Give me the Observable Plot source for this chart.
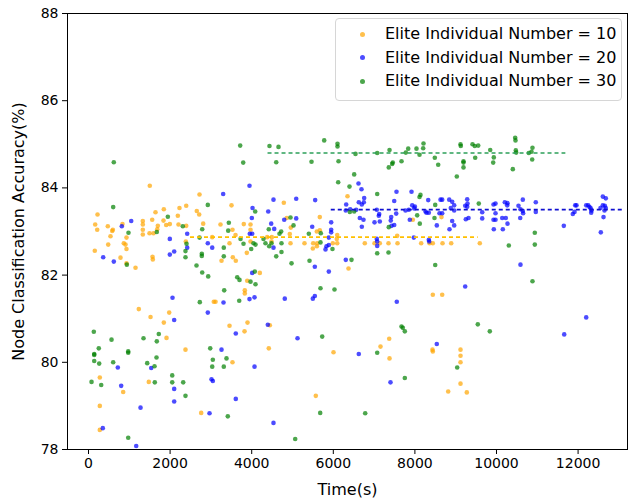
<!DOCTYPE html>
<html><head><meta charset="utf-8">
<script src="https://cdn.jsdelivr.net/npm/d3@7"></script>
<script src="https://cdn.jsdelivr.net/npm/@observablehq/plot@0.6"></script>
<style>
body{margin:0;background:#fff;}
#wrap{position:relative;width:628px;height:502px;font-family:"DejaVu Sans",sans-serif;}
.legend{position:absolute;left:335px;top:18px;width:287px;height:83px;border:1px solid #d6d6d6;border-radius:4px;background:rgba(255,255,255,0.8);box-sizing:border-box;}
.item{position:absolute;left:0;height:20px;font-size:16px;line-height:20px;color:#000;}
.dot{position:absolute;left:24px;top:7.5px;width:5px;height:5px;border-radius:50%;}
.lab{position:absolute;left:49px;white-space:nowrap;}
[aria-label="x-axis label"] text,[aria-label="y-axis label"] text{font-size:16px;}
</style>
</head><body><div id="wrap"></div>
<script>
const seriesNames = ["Elite Individual Number = 10","Elite Individual Number = 20","Elite Individual Number = 30"];
const dotColors = ["orange","blue","green"];
const lineColors = ["#FFC000","#1010D0","#2CA05A"];
const meanAcc = [82.87, 83.5, 84.8];
const meanStart = [2500, 5950, 4400];
const meanEnd = [9550, 13100, 11700];
const xTicks = [0,2000,4000,6000,8000,10000,12000];
const yTicks = [78,80,82,84,86,88];

const elite10 = [[1502,84.05],[2721,83.85],[221,83.39],[1642,83.44],[1846,83.51],[2230,83.54],[2395,83.59],[2654,83.47],[2713,83.39],[1561,83.27],[1838,83.25],[1331,83.24],[2189,83.36],[164,83.16],[473,83.12],[596,83.04],[581,83.01],[833,83.17],[1331,83.16],[1699,83.13],[1904,83.15],[1993,83.17],[2206,83.16],[2395,83.13],[2811,83.18],[213,83.04],[1331,83.04],[1684,83.05],[1495,82.96],[1593,82.96],[539,82.89],[931,82.86],[1331,82.93],[3032,82.87],
[3505,83.60],[4787,83.66],[6348,83.81],[4860,83.31],[5669,83.33],[3235,83.16],[3806,83.17],[3971,83.16],[4958,83.09],[3971,83.04],[5596,83.00],[5669,83.03],[3529,83.04],[4934,82.94],[6096,82.92],[3603,82.92],[6086,82.83],[4380,82.87],[4493,82.87],
[7949,83.27],[8652,83.33],[7566,82.90],
[483,82.70],[865,82.73],[907,82.70],[931,82.60],[154,82.56],[784,82.40],[1569,82.42],[1576,82.36],[931,82.27],[1152,82.17],[2385,82.77],[3071,81.39],[1233,81.22],[1978,81.14],[1520,81.04],[1846,80.91],[1912,80.56],
[3456,82.73],[3971,82.77],[4951,82.73],[5294,82.73],[5507,82.73],[5605,82.73],[5597,82.66],[5498,82.61],[5988,82.73],[6096,82.73],[4485,82.77],[3537,82.41],[3260,82.33],[3610,82.33],[3880,82.51],[6373,82.15],[4199,82.05],[3890,81.87],[3831,81.65],[3831,81.58],[3113,81.39],[3897,80.91],[3456,80.84],[4444,80.85],[3824,80.71],
[6772,82.73],[7010,82.73],[7140,82.73],[7353,82.73],[7574,82.73],[8154,82.73],[8358,82.73],[8439,82.73],[8677,82.73],[8890,82.73],[9591,82.73],[8439,81.55],[8669,81.55],[7370,80.54],
[2377,80.29],[277,79.65],[1478,79.55],[850,79.32],[277,79.00],[2762,78.84],[277,78.45],
[4419,80.32],[6005,80.23],[3529,80.00],[5571,79.23],
[7157,80.36],[7378,80.09],[8431,80.29],[8439,80.25],[9118,80.29],[9118,80.15],[9118,80.00],[9118,79.51],[8816,79.33],[9272,79.31]];

const elite20 = [[1047,83.24],[816,83.12],[2419,82.95],[1993,82.83],
[3946,84.05],[3301,83.86],[4534,83.73],[5091,83.75],[5556,83.72],[6316,83.62],[4020,83.54],[4405,83.46],[4003,83.31],[6414,83.51],[6306,83.48],[4797,83.27],[5091,83.30],[5948,83.21],[4478,83.18],[5483,83.11],[4552,83.06],[5948,83.04],[5948,82.98],[3953,82.95],[4012,82.95],[5890,82.86],
[6618,84.10],[6691,83.97],[6757,83.77],[7549,83.91],[7917,83.91],[7493,83.70],[8326,83.72],[8628,83.73],[8669,83.73],[8841,83.73],[8914,83.68],[9282,83.74],[6625,83.67],[6699,83.62],[6748,83.67],[6561,83.50],[9289,83.64],[9233,83.59],[9282,83.57],[9927,83.62],[7934,83.60],[7983,83.53],[8000,83.57],[8963,83.60],[8880,83.54],[7066,83.50],[7770,83.48],[7851,83.50],[8260,83.46],[8284,83.43],[8341,83.43],[8603,83.42],[8669,83.42],[8963,83.48],[7542,83.41],[7125,83.40],[7115,83.36],[9650,83.44],[6650,83.31],[6740,83.27],[7419,83.33],[7409,83.25],[7875,83.27],[9248,83.28],[9314,83.31],[9650,83.30],[9927,83.27],[7010,83.21],[7140,83.23],[8914,83.24],[6699,83.11],[7427,83.13],[7493,83.15],[8537,83.14],[8963,83.14],[8848,83.05],[9934,83.05],[7066,82.83],[7973,82.86],[8341,82.81],
[10645,83.73],[10963,83.67],[10204,83.67],[10270,83.65],[10262,83.60],[10539,83.59],[10588,83.51],[10645,83.47],[10653,83.42],[10963,83.45],[10581,83.31],[9976,83.64],[9976,83.42],[10140,83.31],[10228,83.31],[9976,83.27],[10270,83.18],[10155,83.05],[11929,83.60],[11961,83.60],[12199,83.60],[12248,83.60],[12280,83.56],[12311,83.53],[12329,83.48],[12321,83.43],[11912,83.45],[11870,83.40],[12606,83.80],[12679,83.76],[12606,83.60],[12655,83.59],[12679,83.54],[12647,83.48],[12549,83.54],[12623,83.33],[11650,83.13],[12557,82.98],
[360,82.41],[620,82.31],[1993,82.47],[2100,82.54],[2924,82.73],[3032,82.63],[2419,82.63],[2059,81.48],[2924,81.14],[2100,80.97],
[4534,82.63],[5833,82.66],[5890,82.69],[5809,82.59],[5547,82.19],[5890,82.08],[6306,82.35],[4012,82.05],[5547,81.52],[5498,81.46],[4069,81.49],[3946,81.45],[4811,81.46],[3309,81.37],[4395,80.86],[3610,80.66],[5123,80.55],
[7076,82.77],[7076,82.67],[8350,82.77],[9233,81.74],[7556,81.39],[8537,80.42],
[10588,82.24],[12199,81.03],[11660,80.64],
[718,79.88],[1537,79.87],[3015,79.61],[3047,79.57],[801,79.46],[2100,79.39],[2100,79.10],[1275,78.96],[2966,78.83],[350,78.49],[1169,78.08],
[3260,80.29],[4069,79.90],[3610,79.16],[4534,78.61],
[6625,80.19],[7402,79.54]];

const elite30 = [[620,84.59],[605,83.56],[2924,83.61],[1944,83.34],[2311,83.12],[2787,83.05],[1674,82.99],[980,82.97],[2721,82.86],
[3718,84.97],[4436,84.96],[4657,84.94],[5777,85.09],[6103,85.01],[6103,84.95],[3792,84.58],[4601,84.59],[5466,84.60],[6128,84.61],[6512,84.31],[6120,84.13],[6397,84.03],[4086,83.46],[6405,83.45],[6512,83.46],[4951,83.32],[3439,83.20],[5025,83.14],[4419,83.05],[3424,83.02],[4723,83.00],[4681,82.95],[5400,82.95],[5694,82.96],[4289,82.83],[3726,82.83],
[6544,84.78],[7076,84.80],[7378,84.87],[7836,84.90],[8039,84.90],[8211,85.02],[8203,84.91],[7777,84.81],[8113,84.76],[9118,85.00],[9125,84.96],[9412,85.00],[9468,84.96],[9552,84.97],[9846,84.87],[9934,84.70],[9919,84.58],[9478,84.69],[8488,84.69],[9191,84.61],[9191,84.58],[9191,84.47],[7458,84.58],[7443,84.55],[7360,84.47],[7672,84.61],[8571,84.53],[9027,84.26],[7076,83.86],[8137,83.84],[8113,83.79],[9566,83.64],[8498,83.61],[8056,83.37],[8480,83.31],[8120,83.18],[7360,83.10],
[10458,85.15],[10466,85.09],[10473,84.86],[10483,84.81],[10882,84.92],[10792,84.80],[10858,84.83],[10875,84.65],[10400,84.43],[10939,82.97],
[939,82.24],[2377,82.55],[2377,82.41],[2777,82.49],[2777,82.44],[2647,82.22],[2787,82.06],[2934,81.97],[2402,82.72],[2728,81.38],[130,80.70],[1723,80.65],[564,80.52],[1348,80.55],[1674,80.48],
[3799,82.72],[4044,82.73],[4093,82.70],[4338,82.73],[4429,82.66],[4485,82.73],[4730,82.73],[5686,82.75],[5980,82.60],[3316,82.63],[3316,82.43],[3988,82.60],[4730,82.53],[4601,82.43],[4976,82.27],[5417,82.33],[6446,82.35],[3645,81.95],[3701,81.89],[4076,82.08],[3971,81.85],[4093,81.79],[3326,81.65],[5686,81.70],[6029,81.67],[3694,81.41],[5728,80.59],
[7076,82.50],[7353,82.52],[8498,82.23],[7672,80.82],[7704,80.79],[7753,80.71],[9542,80.87],[9836,80.71],
[10302,82.68],[10939,82.70],[10882,81.86],
[252,80.32],[140,80.19],[140,80.17],[973,80.25],[973,80.22],[2983,80.32],[140,80.03],[262,79.97],[605,80.00],[1439,79.98],[1667,80.11],[1618,79.91],[3047,80.06],[3032,79.90],[74,79.55],[311,79.48],[1625,79.54],[2052,79.70],[2052,79.54],[2321,79.54],[2377,79.23],[973,78.27],
[3382,80.09],[3316,79.90],[3414,78.76],[5679,78.84],[5066,78.24],
[7076,80.22],[9037,79.88],[7753,79.64],[6782,78.83]];

const seriesData = [elite10, elite20, elite30];

const dotMarks = seriesData.map((s, i) => Plot.dot(s, {x: d => d[0], y: d => d[1], r: 2.3, fill: dotColors[i], fillOpacity: 0.7, stroke: "none"}));
const lineMarks = meanAcc.map((v, i) => Plot.ruleY([v], {x1: meanStart[i], x2: meanEnd[i], stroke: lineColors[i], strokeWidth: 1.7, strokeDasharray: "4,3"}));

const chart = Plot.plot({
  width: 628, height: 502,
  marginLeft: 67, marginRight: 1, marginTop: 13, marginBottom: 53,
  style: {fontFamily: "DejaVu Sans", fontSize: "14px", color: "black", background: "white", overflow: "visible"},
  x: {domain: [-515, 13211]},
  y: {domain: [78, 88]},
  marks: [
    ...dotMarks,
    ...lineMarks,
    Plot.frame({stroke: "black", strokeWidth: 1}),
    Plot.axisX({ticks: xTicks, tickSize: 5, tickPadding: 4, tickFormat: d => String(d), label: "Time(s)", labelAnchor: "center", labelArrow: "none", labelOffset: 45}),
    Plot.axisY({ticks: yTicks, tickSize: 5, tickPadding: 4, tickFormat: d => String(d), label: "Node Classification Accuracy(%)", labelAnchor: "center", labelArrow: "none", labelOffset: 55})
  ]
});
const wrap = document.getElementById("wrap");
wrap.appendChild(chart);

const legend = document.createElement("div");
legend.className = "legend";
seriesNames.forEach((name, i) => {
  const item = document.createElement("div");
  item.className = "item";
  item.style.top = (5 + i * 23.5) + "px";
  const dot = document.createElement("div");
  dot.className = "dot";
  dot.style.background = dotColors[i];
  dot.style.opacity = 0.7;
  const lab = document.createElement("div");
  lab.className = "lab";
  lab.textContent = name;
  item.appendChild(dot); item.appendChild(lab);
  legend.appendChild(item);
});
wrap.appendChild(legend);
</script>
</body></html>
